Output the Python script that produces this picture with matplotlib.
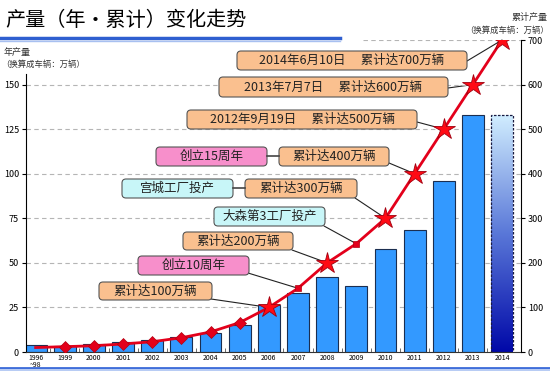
import numpy as np
import matplotlib.pyplot as plt
from matplotlib.patches import FancyBboxPatch, ConnectionPatch
from matplotlib.colors import LinearSegmentedColormap
from matplotlib.lines import Line2D

plt.rcParams['font.family'] = ['Noto Sans CJK SC', 'DejaVu Sans']

# data
years = ["1996\n~98", "1999", "2000", "2001", "2002", "2003", "2004", "2005", "2006",
         "2007", "2008", "2009", "2010", "2011", "2012", "2013", "2014"]
annual = [4, 3.5, 4.3, 5.6, 6.6, 8.4, 10.8, 15, 26.5, 33, 42, 37, 58, 68.5, 96, 133, 133]
cumulative = [10, 12, 14, 18, 23, 32, 45, 66, 100, 143, 200, 243, 300, 400, 500, 600, 700]
diamond_idx = [1, 2, 3, 4, 5, 6, 7]
star_idx = [8, 10, 12, 13, 14, 15, 16]
square_idx = [9, 11]

W, H = 550, 371
fig = plt.figure(figsize=(W / 100, H / 100), dpi=100)
fig.patch.set_facecolor("white")
inch = fig.dpi_scale_trans


def px(x, y):
    # pixel position from top-left -> inches from bottom-left
    return x / 100, (H - y) / 100


ax = fig.add_axes([26 / W, 19 / H, 495 / W, 312 / H])
ax2 = ax.twinx()
for a in (ax, ax2):
    a.patch.set_visible(False)

x = np.arange(len(years))
red = "#E3001B"

# bars
ax.bar(x[:-1], annual[:-1], width=0.75, color="#3399FF", edgecolor="#1B2E50", lw=0.8, zorder=2)
last = ax.bar(x[-1:], annual[-1:], width=0.75, facecolor="none", edgecolor="#1a1a40",
              lw=0.9, ls=(0, (2, 1.2)), zorder=3)[0]
grad = LinearSegmentedColormap.from_list("g", ["#0008A8", "#5A78D8", "#D2EEFF"])
img = ax.imshow(np.linspace(0, 1, 256).reshape(-1, 1), cmap=grad, origin="lower", aspect="auto",
                extent=[last.get_x(), last.get_x() + last.get_width(), 0, last.get_height()], zorder=2)
img.set_clip_path(last)

# grid
for v in range(25, 175, 25):
    ax.axhline(v, color="#b5b5b5", lw=0.8, ls=(0, (4, 3)), zorder=0)
ax.axhline(175, xmin=0.68, color="#b5b5b5", lw=0.8, ls=(0, (4, 3)), zorder=0)

ax.set_xlim(-0.33, 16.65)
ax.set_ylim(0, 175)
ax2.set_ylim(0, 700)
ax.set_yticks(range(0, 175, 25))
ax2.set_yticks(range(0, 800, 100))
ax.set_xticks(x)
ax.set_xticklabels(years, fontsize=5, linespacing=0.8)
ax.set_xticks(x[:-1] + 0.5, minor=True)
ax.tick_params(axis="x", which="major", length=0, pad=1.5)
ax.tick_params(axis="x", which="minor", length=3, direction="in", color="#555555", width=0.6)
ax.tick_params(axis="y", length=3, width=0.8, labelsize=6.5, pad=2)
ax2.tick_params(axis="y", length=3, width=0.8, labelsize=6.5, pad=2)

ax.spines["top"].set_visible(False)
ax.spines["right"].set_visible(False)
ax.spines["left"].set_bounds(0, 156)
ax.spines["bottom"].set_color("#333333")
for s in ("top", "left", "bottom"):
    ax2.spines[s].set_visible(False)

# cumulative line
ax2.plot(x, cumulative, color=red, lw=2, zorder=3)
cum = np.array(cumulative)
ax2.plot(x[diamond_idx], cum[diamond_idx], "D", ms=6, color=red, mec="#B00010", mew=0.5, zorder=4)
ax2.plot(x[square_idx], cum[square_idx], "s", ms=5, color=red, mec="#B00010", mew=0.5, zorder=4)
ax2.plot(x[star_idx], cum[star_idx], "*", ms=16, color="#FF0A14", mec="#A00010", mew=0.6, zorder=5)

# titles and axis labels
fig.text(*px(5, 20), "产量（年・累计）变化走势", transform=inch, fontsize=14.5, va="center")
fig.add_artist(Line2D([0, 3.4], [(H - 38) / 100] * 2, transform=inch, color="#2F5FD0", lw=2.5))
fig.add_artist(Line2D([0, 3.4], [(H - 40.5) / 100] * 2, transform=inch, color="#A8C0F0", lw=1))
fig.add_artist(Line2D([0, 5.5], [(H - 368) / 100] * 2, transform=inch, color="#3B6AD8", lw=2,
                      zorder=-2))
fig.add_artist(Line2D([0, 5.5], [(H - 370.3) / 100] * 2, transform=inch, color="#B8CCF4", lw=1.5,
                      zorder=-2))

fig.text(*px(4, 52), "年产量", transform=inch, fontsize=6.5, va="center", color="#333333")
fig.text(*px(1, 64), "（换算成车辆：万辆）", transform=inch, fontsize=6, va="center", color="#333333")
fig.text(*px(548, 17), "累计产量", transform=inch, fontsize=6.5, va="center", ha="right", color="#333333")
fig.text(*px(549, 30), "（换算成车辆：万辆）", transform=inch, fontsize=6, va="center", ha="right",
         color="#333333")

# callouts
colors = {"o": "#FAC08F", "p": "#F78FCB", "c": "#C8F6F8"}
callouts = [
    ("2014年6月10日\u3000 累计达700万辆", "o", (237, 51, 467, 70), 16, (467, 61)),
    ("2013年7月7日\u3000 累计达600万辆", "o", (219, 77, 448, 97), 15, (448, 88)),
    ("2012年9月19日\u3000 累计达500万辆", "o", (187, 110, 417, 129), 14, (417, 122)),
    ("创立15周年", "p", (156, 147, 267, 166), None, None),
    ("累计达400万辆", "o", (279, 147, 389, 166), 13, (389, 163)),
    ("宫城工厂投产", "c", (122, 179, 233, 198), None, None),
    ("累计达300万辆", "o", (245, 179, 357, 198), 12, (355, 198)),
    ("大森第3工厂投产", "c", (214, 207, 325, 226), 11, (324, 226)),
    ("累计达200万辆", "o", (183, 232, 293, 250), 10, (292, 250)),
    ("创立10周年", "p", (138, 256, 249, 275), 9, (248, 273)),
    ("累计达100万辆", "o", (99, 282, 212, 300), 8, (211, 299)),
]
for text, kind, (x0, y0, x1, y1), idx, start in callouts:
    bx, by = px(x0, y1)
    fig.add_artist(FancyBboxPatch((bx, by), (x1 - x0) / 100, (y1 - y0) / 100, transform=inch,
                                  boxstyle="round,pad=0,rounding_size=0.04", facecolor=colors[kind],
                                  edgecolor="#555555", lw=0.8, zorder=2))
    fig.text(*px((x0 + x1) / 2, (y0 + y1) / 2), text, transform=inch, fontsize=9,
             ha="center", va="center", color="#222222", zorder=3)
    if idx is not None:
        fig.add_artist(ConnectionPatch(px(*start), (x[idx], cumulative[idx]), coordsA=inch,
                                       coordsB=ax2.transData, color="#222222", lw=0.8, zorder=-1))

# short links between paired boxes
for (a0, a1) in [((267, 156), (279, 156)), ((233, 188), (245, 188))]:
    fig.add_artist(Line2D([a0[0] / 100, a1[0] / 100], [(H - a0[1]) / 100, (H - a1[1]) / 100],
                          transform=inch, color="#444444", lw=1.2))

fig.savefig("out.png", dpi=100)
